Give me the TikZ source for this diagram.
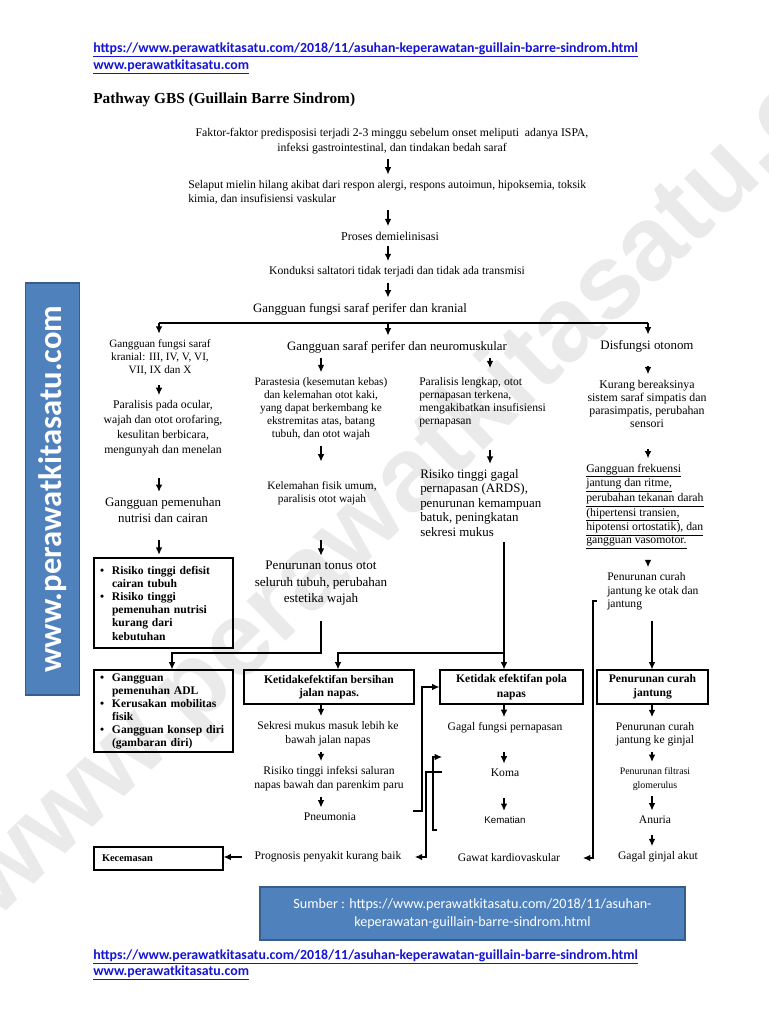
\documentclass[tikz,border=0pt]{standalone}
\usepackage{fontspec}
\setmainfont{Liberation Serif}
\newfontfamily\calibri{Carlito}
\newfontfamily\arial{Liberation Sans}
\usetikzlibrary{arrows.meta}

\definecolor{linkblue}{RGB}{20,20,210}
\definecolor{tabblue}{RGB}{79,129,189}
\definecolor{tabedge}{RGB}{56,93,138}
\definecolor{wmgray}{RGB}{234,234,234}

\newcommand{\fs}[2]{\fontsize{#1}{#2}\selectfont}
\newcommand{\bul}{\makebox[9pt][l]{\textbullet}}
\newcommand{\hang}{\hspace*{9pt}}

\begin{document}
\begin{tikzpicture}[x=0.75pt,y=-0.75pt,
  txt/.style={font=\fs{8.75}{11.25}, align=center, inner xsep=0pt, inner ysep=4pt},
  txtl/.style={txt, align=left, anchor=west},
  box/.style={draw, line width=0.9pt, inner xsep=4.5pt, inner ysep=2pt, font=\bfseries\fs{8.7}{9.9}},
  arr/.style={line width=0.9pt, -{Latex[length=5.5pt,width=5pt]}},
  ln/.style={line width=0.9pt},
  link/.style={anchor=west, inner sep=0pt, text=linkblue, font=\calibri\bfseries\fs{10.4}{12}}]
\useasboundingbox (0,0) rectangle (768,1024);

\draw (450,445) node (wm) [rotate=44, text=wmgray, font=\arial\bfseries\fs{79}{80}] {www.perawatkitasatu.com};

\draw (93,50) node (url1) [link] {\underline{https://www.perawatkitasatu.com/2018/11/asuhan-keperawatan-guillain-barre-sindrom.html}};
\draw (93,67) node (url2) [link] {\underline{www.perawatkitasatu.com}};
\draw (93,100) node (title) [anchor=west, inner sep=0pt, font=\bfseries\fs{11.5}{13}] {Pathway GBS (Guillain Barre Sindrom)};

\draw (52.5,489) node (banner) [rotate=90, fill=tabblue, draw=tabedge, line width=0.8pt, minimum width=309pt, minimum height=41pt, text=white, font=\calibri\bfseries\fs{24.5}{26}] {www.perawatkitasatu.com};

\coordinate (cM) at (388,0);
\coordinate (c1) at (159,0);
\coordinate (c1b) at (172,0);
\coordinate (c2) at (321,0);
\coordinate (c2b) at (338,0);
\coordinate (c3) at (490,0);
\coordinate (c3b) at (504,0);
\coordinate (c4) at (648,0);
\coordinate (c4b) at (652,0);
\coordinate (bar) at (0,323);
\coordinate (j1) at (0,653);

\draw (392,141) node (11) [txt, font=\fs{8.8}{11.25}] {Faktor-faktor predisposisi terjadi 2-3 minggu sebelum onset meliputi\ \ adanya ISPA,\\infeksi gastrointestinal, dan tindakan bedah saraf};
\draw (188,192) node (21) [txtl, font=\fs{8.75}{10.5}] {Selaput mielin hilang akibat dari respon alergi, respons autoimun, hipoksemia, toksik\\kimia, dan insufisiensi vaskular};
\draw[arr] (11.south -| cM) -- (21.north -| cM);

\draw (390,236) node (31) [txt, font=\fs{9}{11}] {Proses demielinisasi};
\draw[arr] (21.south -| cM) -- (31.north -| cM);

\draw (397,272) node (41) [txt] {Konduksi saltatori tidak terjadi dan tidak ada transmisi};
\draw[arr] (31.south -| cM) -- (41.north -| cM);

\draw (360,309) node (51) [txt, font=\fs{9.6}{11}] {Gangguan fungsi saraf perifer dan kranial};
\draw[arr] (41.south -| cM) -- (51.north -| cM);

\draw (160,357) node (61) [txt, font=\fs{8.4}{9.75}] {Gangguan fungsi saraf\\kranial: III, IV, V, VI,\\VII, IX dan X};
\draw (397,347) node (62) [txt, font=\fs{9.6}{11}] {Gangguan saraf perifer dan neuromuskular};
\draw (647,346) node (64) [txt, font=\fs{9.7}{11}] {Disfungsi otonom};
\draw[ln] (bar -| c1) -- (bar -| c4);
\draw[arr] (bar -| c1) -- (61.north -| c1);
\draw[arr] (bar -| cM) -- (62.north -| cM);
\draw[arr] (bar -| c4) -- (64.north -| c4);

\draw (163,428.5) node (71) [txt, font=\fs{8.8}{11.25}] {Paralisis pada ocular,\\wajah dan otot orofaring,\\kesulitan berbicara,\\mengunyah dan menelan};
\draw (321,409) node (72) [txt, font=\fs{8.5}{9.75}] {Parastesia (kesemutan kebas)\\dan kelemahan otot kaki,\\yang dapat berkembang ke\\ekstremitas atas, batang\\tubuh, dan otot wajah};
\draw (419,402.5) node (73) [txtl, font=\fs{8.7}{9.75}] {Paralisis lengkap, otot\\pernapasan terkena,\\mengakibatkan insufisiensi\\pernapasan};
\draw (647,403.5) node (74) [txt, font=\fs{8.9}{9.75}] {Kurang bereaksinya\\sistem saraf simpatis dan\\parasimpatis, perubahan\\sensori};
\draw[arr, shorten <=3.5pt] (61.south -| c1) -- (71.north -| c1);
\draw[arr] (62.south -| c2) -- (72.north -| c2);
\draw[arr, shorten >=3pt] (62.south -| c3) -- (73.north -| c3);
\draw[arr, shorten <=6.5pt] (64.south -| c4) -- (74.north -| c4);

\draw (163,510) node (81) [txt, font=\fs{9.7}{12}] {Gangguan pemenuhan\\nutrisi dan cairan};
\draw (322,493.5) node (82) [txt, font=\fs{8.5}{9.75}] {Kelemahan fisik umum,\\paralisis otot wajah};
\draw (420,503) node (83) [txtl, font=\fs{9.7}{10.9}] {Risiko tinggi gagal\\pernapasan (ARDS),\\penurunan kemampuan\\batuk, peningkatan\\sekresi mukus};
\draw (586,506.5) node (84) [txtl, font=\fs{8.8}{9.75}] {\underline{Gangguan frekuensi}\\\underline{jantung dan ritme,}\\\underline{perubahan tekanan darah}\\\underline{(hipertensi transien,}\\\underline{hipotensi ortostatik), dan}\\\underline{gangguan vasomotor.}};
\draw[arr, shorten <=12pt] (71.south -| c1) -- (81.north -| c1);
\draw[arr, shorten >=11pt] (72.south -| c2) -- (82.north -| c2);
\draw[arr, shorten <=13pt] (73.south -| c3) -- (83.north -| c3);
\draw[arr, shorten <=12.5pt] (74.south -| c4) -- (84.north -| c4);

\draw (163.5,603) node (91) [box, minimum width=104.25pt, minimum height=67.5pt, text width=95.25pt, align=left] {\bul Risiko tinggi defisit\\\hang cairan tubuh\\\bul Risiko tinggi\\\hang pemenuhan nutrisi\\\hang kurang dari\\\hang kebutuhan};
\draw (321,583.5) node (92) [txt, font=\fs{9.8}{12.4}] {Penurunan tonus otot\\seluruh tubuh, perubahan\\estetika wajah};
\draw (607,591.5) node (94) [txtl, font=\fs{8.7}{10.1}] {Penurunan curah\\jantung ke otak dan\\jantung};
\draw[arr, shorten <=9pt, shorten >=2pt] (81.south -| c1) -- (91.north -| c1);
\draw[arr, shorten <=22pt] (82.south -| c2) -- (92.north -| c2);
\draw[arr, shorten <=5.5pt] (84.south -| c4) -- (94.north -| c4);

\draw (163.5,711) node (101) [box, minimum width=104.25pt, minimum height=61.5pt, text width=95.25pt, align=left, font=\bfseries\fs{8.7}{9.75}] {\bul Gangguan\\\hang pemenuhan ADL\\\bul Kerusakan mobilitas\\\hang fisik\\\bul Gangguan konsep diri\\\hang (gambaran diri)};
\draw (329,687) node (102) [box, minimum width=127.5pt, minimum height=25.5pt, align=center, font=\bfseries\fs{8.7}{9.75}] {Ketidakefektifan bersihan\\jalan napas.};
\draw (511.5,687) node (103) [box, minimum width=107.25pt, minimum height=25.5pt, align=center, font=\bfseries\fs{8.7}{11.25}] {Ketidak efektifan pola\\napas};
\draw (652.5,687) node (104) [box, minimum width=83.25pt, minimum height=25.5pt, align=center, font=\bfseries\fs{8.7}{10.5}] {Penurunan curah\\jantung};
\draw[arr, shorten <=7.5pt] (92.south -| c2) |- (j1 -| c1b) -- (101.north -| c1b);
\draw[arr] (83.south -| c3b) -- (103.north -| c3b);
\draw[arr] (j1 -| c3b) -| (102.north -| c2b);
\draw[arr, shorten <=3.5pt] (94.south -| c4b) -- (104.north -| c4b);

\draw (328,734) node (112) [txt, font=\fs{8.7}{10.5}] {Sekresi mukus masuk lebih ke\\bawah jalan napas};
\draw (505,728) node (113) [txt, font=\fs{8.7}{10.5}] {Gagal fungsi pernapasan};
\draw (655,734.5) node (114) [txt, font=\fs{8.7}{9.75}] {Penurunan curah\\jantung ke ginjal};
\draw[arr] (102.south -| c2) -- (112.north -| c2);
\draw[arr] (103.south -| c3b) -- (113.north -| c3b);
\draw[arr] (104.south -| c4b) -- (114.north -| c4b);

\draw (329,779) node (122) [txt, font=\fs{8.7}{10.5}] {Risiko tinggi infeksi saluran\\napas bawah dan parenkim paru};
\draw (505,773) node (123) [txt, font=\fs{8.7}{10.5}] {Koma};
\draw (655,779) node (124) [txt, font=\fs{7.4}{10.5}] {Penurunan filtrasi\\glomerulus};
\draw[arr] (112.south -| c2) -- (122.north -| c2);
\draw[arr, shorten <=10pt] (113.south -| c3b) -- (123.north -| c3b);
\draw[arr] (114.south -| c4b) -- (124.north -| c4b);

\draw (330,817) node (132) [txt, font=\fs{8.7}{10.5}] {Pneumonia};
\draw (505,820) node (133) [txt, font=\arial\fs{7.3}{9}] {Kematian};
\draw (655,820) node (134) [txt, font=\fs{8.7}{10.5}] {Anuria};
\draw[arr] (122.south -| c2) -- (132.north -| c2);
\draw[arr, shorten <=12pt] (123.south -| c3b) -- (133.north -| c3b);
\draw[arr] (124.south -| c4b) -- (134.north -| c4b);

\draw (158.5,858.5) node (141) [box, minimum width=96.75pt, minimum height=17.25pt, inner xsep=6pt, text width=84.75pt, align=left, font=\bfseries\fs{7.8}{9}] {Kecemasan};
\draw (328,857) node (142) [txt, font=\fs{8.7}{10.5}] {Prognosis penyakit kurang baik};
\draw (509,858) node (143) [txt, font=\fs{8.7}{10.5}] {Gawat kardiovaskular};
\draw (658,857) node (144) [txt, font=\fs{8.7}{10.5}] {Gagal ginjal akut};
\draw[arr, shorten <=9pt] (142.west) -- (142.west -| 141.east);
\draw[arr, shorten <=4pt] (134.south -| c4b) -- (144.north -| c4b);

\coordinate (k132) at (413,811);
\coordinate (k123) at (442,772);
\coordinate (k133) at (437,830);
\coordinate (k133b) at (442,757);
\coordinate (k94) at (597,601);
\draw[arr] (k132) -- ++(9,0) |- (103.west);
\draw[arr, shorten >=10pt] (k123) -- ++(-16,0) |- (142.east);
\draw[arr] (k133) -- ++(-4,0) |- (k133b);
\draw[arr, shorten >=17pt] (k94) -- ++(-4,0) |- (143.east);

\draw (472.5,913.5) node (src) [fill=tabblue, draw=tabedge, line width=0.8pt, minimum width=318.75pt, minimum height=39.75pt, align=center, text=white, font=\calibri\fs{10.6}{13.5}] {Sumber : https://www.perawatkitasatu.com/2018/11/asuhan-\\keperawatan-guillain-barre-sindrom.html};

\draw (93,957) node (url3) [link] {\underline{https://www.perawatkitasatu.com/2018/11/asuhan-keperawatan-guillain-barre-sindrom.html}};
\draw (93,973) node (url4) [link] {\underline{www.perawatkitasatu.com}};
\end{tikzpicture}
\end{document}
